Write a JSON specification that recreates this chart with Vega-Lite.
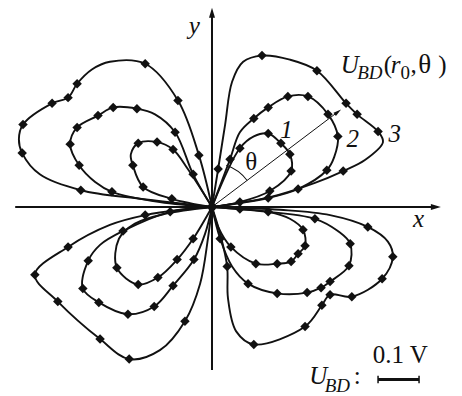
{
  "$schema": "https://vega.github.io/schema/vega-lite/v6.json",
  "width": 462,
  "height": 396,
  "autosize": {"type": "fit", "contains": "padding"},
  "padding": 0,
  "background": "white",
  "config": {"view": {"stroke": null}, "axis": {"disable": true}},
  "datasets": {
    "one": [{}],
    "curves": [
      {"k":"UL3","i":1,"x":0,"y":0,"m":0},
      {"k":"UL3","i":2,"x":-0.032,"y":0.127,"m":1},
      {"k":"UL3","i":3,"x":-0.083,"y":0.261,"m":1},
      {"k":"UL3","i":4,"x":-0.163,"y":0.351,"m":1},
      {"k":"UL3","i":5,"x":-0.249,"y":0.356,"m":0},
      {"k":"UL3","i":6,"x":-0.293,"y":0.337,"m":0},
      {"k":"UL3","i":7,"x":-0.329,"y":0.302,"m":1},
      {"k":"UL3","i":8,"x":-0.351,"y":0.268,"m":1},
      {"k":"UL3","i":9,"x":-0.390,"y":0.254,"m":1},
      {"k":"UL3","i":10,"x":-0.461,"y":0.202,"m":1},
      {"k":"UL3","i":11,"x":-0.471,"y":0.166,"m":0},
      {"k":"UL3","i":12,"x":-0.463,"y":0.132,"m":1},
      {"k":"UL3","i":13,"x":-0.420,"y":0.080,"m":0},
      {"k":"UL3","i":14,"x":-0.320,"y":0.041,"m":1},
      {"k":"UL3","i":15,"x":-0.176,"y":0.020,"m":0},
      {"k":"UL3","i":16,"x":0,"y":0,"m":0},

      {"k":"UL2","i":1,"x":0,"y":0,"m":0},
      {"k":"UL2","i":2,"x":-0.046,"y":0.080,"m":1},
      {"k":"UL2","i":3,"x":-0.090,"y":0.183,"m":1},
      {"k":"UL2","i":4,"x":-0.139,"y":0.227,"m":0},
      {"k":"UL2","i":5,"x":-0.183,"y":0.241,"m":1},
      {"k":"UL2","i":6,"x":-0.241,"y":0.244,"m":1},
      {"k":"UL2","i":7,"x":-0.278,"y":0.224,"m":1},
      {"k":"UL2","i":8,"x":-0.329,"y":0.195,"m":1},
      {"k":"UL2","i":9,"x":-0.346,"y":0.154,"m":1},
      {"k":"UL2","i":10,"x":-0.324,"y":0.102,"m":1},
      {"k":"UL2","i":11,"x":-0.285,"y":0.061,"m":0},
      {"k":"UL2","i":12,"x":-0.244,"y":0.037,"m":1},
      {"k":"UL2","i":13,"x":-0.127,"y":0.012,"m":0},
      {"k":"UL2","i":14,"x":0,"y":0,"m":0},

      {"k":"UL1","i":1,"x":0,"y":0,"m":0},
      {"k":"UL1","i":2,"x":-0.059,"y":0.093,"m":0},
      {"k":"UL1","i":3,"x":-0.095,"y":0.141,"m":1},
      {"k":"UL1","i":4,"x":-0.134,"y":0.159,"m":1},
      {"k":"UL1","i":5,"x":-0.180,"y":0.156,"m":1},
      {"k":"UL1","i":6,"x":-0.198,"y":0.129,"m":0},
      {"k":"UL1","i":7,"x":-0.193,"y":0.102,"m":1},
      {"k":"UL1","i":8,"x":-0.168,"y":0.049,"m":1},
      {"k":"UL1","i":9,"x":-0.098,"y":0.020,"m":1},
      {"k":"UL1","i":10,"x":0,"y":0,"m":0},

      {"k":"UR3","i":1,"x":0,"y":0,"m":0},
      {"k":"UR3","i":2,"x":0.015,"y":0.093,"m":1},
      {"k":"UR3","i":3,"x":0.032,"y":0.202,"m":0},
      {"k":"UR3","i":4,"x":0.049,"y":0.307,"m":0},
      {"k":"UR3","i":5,"x":0.076,"y":0.356,"m":0},
      {"k":"UR3","i":6,"x":0.122,"y":0.371,"m":1},
      {"k":"UR3","i":7,"x":0.190,"y":0.361,"m":0},
      {"k":"UR3","i":8,"x":0.256,"y":0.334,"m":1},
      {"k":"UR3","i":9,"x":0.327,"y":0.254,"m":1},
      {"k":"UR3","i":10,"x":0.354,"y":0.227,"m":1},
      {"k":"UR3","i":11,"x":0.405,"y":0.185,"m":1},
      {"k":"UR3","i":12,"x":0.417,"y":0.159,"m":0},
      {"k":"UR3","i":13,"x":0.373,"y":0.115,"m":0},
      {"k":"UR3","i":14,"x":0.320,"y":0.088,"m":1},
      {"k":"UR3","i":15,"x":0.251,"y":0.059,"m":0},
      {"k":"UR3","i":16,"x":0.141,"y":0.024,"m":0},
      {"k":"UR3","i":17,"x":0,"y":0,"m":0},

      {"k":"UR2","i":1,"x":0,"y":0,"m":0},
      {"k":"UR2","i":2,"x":0.044,"y":0.117,"m":1},
      {"k":"UR2","i":3,"x":0.068,"y":0.183,"m":0},
      {"k":"UR2","i":4,"x":0.102,"y":0.217,"m":1},
      {"k":"UR2","i":5,"x":0.137,"y":0.244,"m":1},
      {"k":"UR2","i":6,"x":0.185,"y":0.271,"m":1},
      {"k":"UR2","i":7,"x":0.234,"y":0.271,"m":1},
      {"k":"UR2","i":8,"x":0.283,"y":0.227,"m":1},
      {"k":"UR2","i":9,"x":0.307,"y":0.173,"m":1},
      {"k":"UR2","i":10,"x":0.298,"y":0.122,"m":0},
      {"k":"UR2","i":11,"x":0.280,"y":0.090,"m":1},
      {"k":"UR2","i":12,"x":0.210,"y":0.044,"m":1},
      {"k":"UR2","i":13,"x":0.137,"y":0.022,"m":1},
      {"k":"UR2","i":14,"x":0,"y":0,"m":0},

      {"k":"UR1","i":1,"x":0,"y":0,"m":0},
      {"k":"UR1","i":2,"x":0.068,"y":0.144,"m":1},
      {"k":"UR1","i":3,"x":0.102,"y":0.173,"m":0},
      {"k":"UR1","i":4,"x":0.137,"y":0.180,"m":1},
      {"k":"UR1","i":5,"x":0.168,"y":0.156,"m":1},
      {"k":"UR1","i":6,"x":0.190,"y":0.129,"m":1},
      {"k":"UR1","i":7,"x":0.193,"y":0.088,"m":1},
      {"k":"UR1","i":8,"x":0.141,"y":0.039,"m":1},
      {"k":"UR1","i":9,"x":0.068,"y":0.012,"m":1},
      {"k":"UR1","i":10,"x":0,"y":0,"m":0},

      {"k":"LL3","i":1,"x":0,"y":0,"m":0},
      {"k":"LL3","i":2,"x":-0.078,"y":-0.007,"m":0},
      {"k":"LL3","i":3,"x":-0.163,"y":-0.020,"m":1},
      {"k":"LL3","i":4,"x":-0.249,"y":-0.044,"m":0},
      {"k":"LL3","i":5,"x":-0.351,"y":-0.098,"m":1},
      {"k":"LL3","i":6,"x":-0.432,"y":-0.166,"m":1},
      {"k":"LL3","i":7,"x":-0.376,"y":-0.232,"m":1},
      {"k":"LL3","i":8,"x":-0.273,"y":-0.324,"m":1},
      {"k":"LL3","i":9,"x":-0.202,"y":-0.373,"m":1},
      {"k":"LL3","i":10,"x":-0.127,"y":-0.351,"m":0},
      {"k":"LL3","i":11,"x":-0.066,"y":-0.280,"m":1},
      {"k":"LL3","i":12,"x":-0.029,"y":-0.188,"m":0},
      {"k":"LL3","i":13,"x":-0.010,"y":-0.078,"m":0},
      {"k":"LL3","i":14,"x":0,"y":0,"m":0},

      {"k":"LL2","i":1,"x":0,"y":0,"m":0},
      {"k":"LL2","i":2,"x":-0.102,"y":-0.012,"m":1},
      {"k":"LL2","i":3,"x":-0.217,"y":-0.059,"m":1},
      {"k":"LL2","i":4,"x":-0.273,"y":-0.093,"m":0},
      {"k":"LL2","i":5,"x":-0.302,"y":-0.132,"m":1},
      {"k":"LL2","i":6,"x":-0.315,"y":-0.200,"m":1},
      {"k":"LL2","i":7,"x":-0.276,"y":-0.234,"m":1},
      {"k":"LL2","i":8,"x":-0.205,"y":-0.263,"m":1},
      {"k":"LL2","i":9,"x":-0.141,"y":-0.244,"m":1},
      {"k":"LL2","i":10,"x":-0.095,"y":-0.193,"m":1},
      {"k":"LL2","i":11,"x":-0.044,"y":-0.129,"m":1},
      {"k":"LL2","i":12,"x":-0.017,"y":-0.066,"m":0},
      {"k":"LL2","i":13,"x":0,"y":0,"m":0},

      {"k":"LL1","i":1,"x":0,"y":0,"m":0},
      {"k":"LL1","i":2,"x":-0.115,"y":-0.017,"m":0},
      {"k":"LL1","i":3,"x":-0.188,"y":-0.041,"m":0},
      {"k":"LL1","i":4,"x":-0.227,"y":-0.078,"m":0},
      {"k":"LL1","i":5,"x":-0.232,"y":-0.149,"m":1},
      {"k":"LL1","i":6,"x":-0.180,"y":-0.190,"m":1},
      {"k":"LL1","i":7,"x":-0.132,"y":-0.173,"m":1},
      {"k":"LL1","i":8,"x":-0.085,"y":-0.129,"m":1},
      {"k":"LL1","i":9,"x":-0.046,"y":-0.078,"m":1},
      {"k":"LL1","i":10,"x":0,"y":0,"m":0},

      {"k":"LR3","i":1,"x":0,"y":0,"m":0},
      {"k":"LR3","i":2,"x":0.166,"y":-0.007,"m":0},
      {"k":"LR3","i":3,"x":0.288,"y":-0.020,"m":0},
      {"k":"LR3","i":4,"x":0.380,"y":-0.049,"m":1},
      {"k":"LR3","i":5,"x":0.429,"y":-0.085,"m":0},
      {"k":"LR3","i":6,"x":0.441,"y":-0.122,"m":1},
      {"k":"LR3","i":7,"x":0.415,"y":-0.176,"m":1},
      {"k":"LR3","i":8,"x":0.341,"y":-0.220,"m":1},
      {"k":"LR3","i":9,"x":0.288,"y":-0.215,"m":1},
      {"k":"LR3","i":10,"x":0.268,"y":-0.241,"m":1},
      {"k":"LR3","i":11,"x":0.227,"y":-0.293,"m":1},
      {"k":"LR3","i":12,"x":0.102,"y":-0.337,"m":1},
      {"k":"LR3","i":13,"x":0.059,"y":-0.305,"m":0},
      {"k":"LR3","i":14,"x":0.039,"y":-0.224,"m":0},
      {"k":"LR3","i":15,"x":0.037,"y":-0.146,"m":1},
      {"k":"LR3","i":16,"x":0.020,"y":-0.066,"m":0},
      {"k":"LR3","i":17,"x":0,"y":0,"m":0},

      {"k":"LR2","i":1,"x":0,"y":0,"m":0},
      {"k":"LR2","i":2,"x":0.117,"y":-0.010,"m":0},
      {"k":"LR2","i":3,"x":0.251,"y":-0.029,"m":1},
      {"k":"LR2","i":4,"x":0.307,"y":-0.059,"m":0},
      {"k":"LR2","i":5,"x":0.337,"y":-0.090,"m":1},
      {"k":"LR2","i":6,"x":0.334,"y":-0.144,"m":1},
      {"k":"LR2","i":7,"x":0.288,"y":-0.183,"m":1},
      {"k":"LR2","i":8,"x":0.266,"y":-0.198,"m":1},
      {"k":"LR2","i":9,"x":0.232,"y":-0.210,"m":1},
      {"k":"LR2","i":10,"x":0.159,"y":-0.212,"m":1},
      {"k":"LR2","i":11,"x":0.088,"y":-0.188,"m":1},
      {"k":"LR2","i":12,"x":0.049,"y":-0.146,"m":0},
      {"k":"LR2","i":13,"x":0.020,"y":-0.078,"m":1},
      {"k":"LR2","i":14,"x":0,"y":0,"m":0},

      {"k":"LR1","i":1,"x":0,"y":0,"m":0},
      {"k":"LR1","i":2,"x":0.068,"y":-0.005,"m":1},
      {"k":"LR1","i":3,"x":0.137,"y":-0.012,"m":1},
      {"k":"LR1","i":4,"x":0.190,"y":-0.029,"m":0},
      {"k":"LR1","i":5,"x":0.222,"y":-0.056,"m":1},
      {"k":"LR1","i":6,"x":0.227,"y":-0.095,"m":1},
      {"k":"LR1","i":7,"x":0.210,"y":-0.115,"m":1},
      {"k":"LR1","i":8,"x":0.193,"y":-0.134,"m":1},
      {"k":"LR1","i":9,"x":0.159,"y":-0.139,"m":1},
      {"k":"LR1","i":10,"x":0.107,"y":-0.139,"m":1},
      {"k":"LR1","i":11,"x":0.046,"y":-0.098,"m":1},
      {"k":"LR1","i":12,"x":0.015,"y":-0.049,"m":0},
      {"k":"LR1","i":13,"x":0,"y":0,"m":0}
    ]
  },
  "layer": [
    {
      "data": {"name": "curves"},
      "mark": {"type": "line", "interpolate": "catmull-rom", "strokeWidth": 1.9, "color": "#111111"},
      "encoding": {
        "x": {"field": "x", "type": "quantitative", "scale": {"domain": [-0.51707, 0.60976], "nice": false, "zero": false}, "axis": null},
        "y": {"field": "y", "type": "quantitative", "scale": {"domain": [-0.45854, 0.50732], "nice": false, "zero": false}, "axis": null},
        "detail": {"field": "k", "type": "nominal"},
        "order": {"field": "i", "type": "quantitative"}
      }
    },
    {
      "data": {"name": "curves"},
      "transform": [{"filter": "datum.m == 1"}],
      "mark": {"type": "point", "shape": "diamond", "filled": true, "size": 90, "color": "#111111", "opacity": 1},
      "encoding": {
        "x": {"field": "x", "type": "quantitative"},
        "y": {"field": "y", "type": "quantitative"}
      }
    },
    {
      "data": {"name": "one"},
      "mark": {"type": "rule", "strokeWidth": 2, "color": "#111111"},
      "encoding": {
        "x": {"datum": -0.480, "type": "quantitative"},
        "x2": {"datum": 0.546},
        "y": {"datum": 0, "type": "quantitative"}
      }
    },
    {
      "data": {"name": "one"},
      "mark": {"type": "rule", "strokeWidth": 2, "color": "#111111"},
      "encoding": {
        "x": {"datum": 0, "type": "quantitative"},
        "y": {"datum": -0.400, "type": "quantitative"},
        "y2": {"datum": 0.476}
      }
    },
    {
      "data": {"name": "one"},
      "mark": {"type": "point", "shape": "circle", "filled": true, "size": 70, "color": "#111111", "opacity": 1},
      "encoding": {
        "x": {"datum": 0, "type": "quantitative"},
        "y": {"datum": 0, "type": "quantitative"}
      }
    },
    {
      "data": {"name": "one"},
      "mark": {"type": "point", "shape": "M-1,-0.6L1,0L-1,0.6Z", "filled": true, "size": 100, "color": "#111111", "opacity": 1},
      "encoding": {
        "x": {"datum": 0.546, "type": "quantitative"},
        "y": {"datum": 0, "type": "quantitative"}
      }
    },
    {
      "data": {"name": "one"},
      "mark": {"type": "point", "shape": "M-0.6,1L0,-1L0.6,1Z", "filled": true, "size": 100, "color": "#111111", "opacity": 1},
      "encoding": {
        "x": {"datum": 0, "type": "quantitative"},
        "y": {"datum": 0.476, "type": "quantitative"}
      }
    },
    {
      "data": {"name": "one"},
      "mark": {"type": "rule", "strokeWidth": 1, "color": "#111111"},
      "encoding": {
        "x": {"datum": 0, "type": "quantitative"},
        "y": {"datum": 0, "type": "quantitative"},
        "x2": {"datum": 0.307},
        "y2": {"datum": 0.233}
      }
    },
    {
      "data": {"name": "one"},
      "mark": {"type": "point", "shape": "M-1,-0.5L1,0L-1,0.5Z", "filled": true, "size": 64, "angle": 323, "color": "#111111", "opacity": 1},
      "encoding": {
        "x": {"datum": 0.307, "type": "quantitative"},
        "y": {"datum": 0.233, "type": "quantitative"}
      }
    },
    {
      "data": {"name": "one"},
      "mark": {"type": "arc", "radius": 44.5, "radius2": 43.5, "theta": 0.33, "theta2": 0.925, "color": "#111111"},
      "encoding": {
        "x": {"datum": 0, "type": "quantitative"},
        "y": {"datum": 0, "type": "quantitative"}
      }
    },
    {
      "data": {"name": "one"},
      "mark": {"type": "text", "text": "y", "font": "Liberation Serif", "fontStyle": "italic", "fontSize": 25, "align": "center", "baseline": "alphabetic", "color": "#111111"},
      "encoding": {"x": {"datum": -0.043, "type": "quantitative"}, "y": {"datum": 0.424, "type": "quantitative"}}
    },
    {
      "data": {"name": "one"},
      "mark": {"type": "text", "text": "x", "font": "Liberation Serif", "fontStyle": "italic", "fontSize": 25, "align": "center", "baseline": "alphabetic", "color": "#111111"},
      "encoding": {"x": {"datum": 0.504, "type": "quantitative"}, "y": {"datum": -0.049, "type": "quantitative"}}
    },
    {
      "data": {"name": "one"},
      "mark": {"type": "text", "text": "U", "font": "Liberation Serif", "fontStyle": "italic", "fontSize": 25, "align": "left", "baseline": "alphabetic", "color": "#111111"},
      "encoding": {"x": {"datum": 0.314, "type": "quantitative"}, "y": {"datum": 0.329, "type": "quantitative"}}
    },
    {
      "data": {"name": "one"},
      "mark": {"type": "text", "text": "BD", "font": "Liberation Serif", "fontStyle": "italic", "fontSize": 19, "align": "left", "baseline": "alphabetic", "color": "#111111"},
      "encoding": {"x": {"datum": 0.354, "type": "quantitative"}, "y": {"datum": 0.313, "type": "quantitative"}}
    },
    {
      "data": {"name": "one"},
      "mark": {"type": "text", "text": "(", "font": "Liberation Serif", "fontSize": 25, "align": "left", "baseline": "alphabetic", "color": "#111111"},
      "encoding": {"x": {"datum": 0.419, "type": "quantitative"}, "y": {"datum": 0.329, "type": "quantitative"}}
    },
    {
      "data": {"name": "one"},
      "mark": {"type": "text", "text": "r", "font": "Liberation Serif", "fontStyle": "italic", "fontSize": 25, "align": "left", "baseline": "alphabetic", "color": "#111111"},
      "encoding": {"x": {"datum": 0.436, "type": "quantitative"}, "y": {"datum": 0.329, "type": "quantitative"}}
    },
    {
      "data": {"name": "one"},
      "mark": {"type": "text", "text": "0", "font": "Liberation Serif", "fontSize": 19, "align": "left", "baseline": "alphabetic", "color": "#111111"},
      "encoding": {"x": {"datum": 0.460, "type": "quantitative"}, "y": {"datum": 0.313, "type": "quantitative"}}
    },
    {
      "data": {"name": "one"},
      "mark": {"type": "text", "text": ",", "font": "Liberation Serif", "fontSize": 25, "align": "left", "baseline": "alphabetic", "color": "#111111"},
      "encoding": {"x": {"datum": 0.484, "type": "quantitative"}, "y": {"datum": 0.329, "type": "quantitative"}}
    },
    {
      "data": {"name": "one"},
      "mark": {"type": "text", "text": "θ", "font": "Liberation Serif", "fontSize": 27, "align": "left", "baseline": "alphabetic", "color": "#111111"},
      "encoding": {"x": {"datum": 0.503, "type": "quantitative"}, "y": {"datum": 0.329, "type": "quantitative"}}
    },
    {
      "data": {"name": "one"},
      "mark": {"type": "text", "text": ")", "font": "Liberation Serif", "fontSize": 25, "align": "left", "baseline": "alphabetic", "color": "#111111"},
      "encoding": {"x": {"datum": 0.552, "type": "quantitative"}, "y": {"datum": 0.329, "type": "quantitative"}}
    },
    {
      "data": {"name": "one"},
      "mark": {"type": "text", "text": "1", "font": "Liberation Serif", "fontStyle": "italic", "fontSize": 25, "align": "center", "baseline": "alphabetic", "color": "#111111"},
      "encoding": {"x": {"datum": 0.182, "type": "quantitative"}, "y": {"datum": 0.168, "type": "quantitative"}}
    },
    {
      "data": {"name": "one"},
      "mark": {"type": "text", "text": "2", "font": "Liberation Serif", "fontStyle": "italic", "fontSize": 25, "align": "center", "baseline": "alphabetic", "color": "#111111"},
      "encoding": {"x": {"datum": 0.343, "type": "quantitative"}, "y": {"datum": 0.147, "type": "quantitative"}}
    },
    {
      "data": {"name": "one"},
      "mark": {"type": "text", "text": "3", "font": "Liberation Serif", "fontStyle": "italic", "fontSize": 25, "align": "center", "baseline": "alphabetic", "color": "#111111"},
      "encoding": {"x": {"datum": 0.446, "type": "quantitative"}, "y": {"datum": 0.159, "type": "quantitative"}}
    },
    {
      "data": {"name": "one"},
      "mark": {"type": "text", "text": "θ", "font": "Liberation Serif", "fontSize": 25, "align": "center", "baseline": "alphabetic", "color": "#111111"},
      "encoding": {"x": {"datum": 0.096, "type": "quantitative"}, "y": {"datum": 0.090, "type": "quantitative"}}
    },
    {
      "data": {"name": "one"},
      "mark": {"type": "text", "text": "0.1 V", "font": "Liberation Serif", "fontSize": 25, "align": "center", "baseline": "alphabetic", "color": "#111111"},
      "encoding": {"x": {"datum": 0.459, "type": "quantitative"}, "y": {"datum": -0.383, "type": "quantitative"}}
    },
    {
      "data": {"name": "one"},
      "mark": {"type": "text", "text": "U", "font": "Liberation Serif", "fontStyle": "italic", "fontSize": 25, "align": "left", "baseline": "alphabetic", "color": "#111111"},
      "encoding": {"x": {"datum": 0.237, "type": "quantitative"}, "y": {"datum": -0.435, "type": "quantitative"}}
    },
    {
      "data": {"name": "one"},
      "mark": {"type": "text", "text": "BD", "font": "Liberation Serif", "fontStyle": "italic", "fontSize": 19, "align": "left", "baseline": "alphabetic", "color": "#111111"},
      "encoding": {"x": {"datum": 0.275, "type": "quantitative"}, "y": {"datum": -0.453, "type": "quantitative"}}
    },
    {
      "data": {"name": "one"},
      "mark": {"type": "text", "text": ":", "font": "Liberation Serif", "fontSize": 25, "align": "left", "baseline": "alphabetic", "color": "#111111"},
      "encoding": {"x": {"datum": 0.346, "type": "quantitative"}, "y": {"datum": -0.435, "type": "quantitative"}}
    },
    {
      "data": {"name": "one"},
      "mark": {"type": "rule", "strokeWidth": 3, "color": "#111111"},
      "encoding": {
        "x": {"datum": 0.405, "type": "quantitative"},
        "x2": {"datum": 0.505},
        "y": {"datum": -0.423, "type": "quantitative"}
      }
    },
    {
      "data": {"name": "one"},
      "mark": {"type": "rule", "strokeWidth": 1.5, "color": "#111111"},
      "encoding": {
        "x": {"datum": 0.405, "type": "quantitative"},
        "y": {"datum": -0.414, "type": "quantitative"},
        "y2": {"datum": -0.432}
      }
    },
    {
      "data": {"name": "one"},
      "mark": {"type": "rule", "strokeWidth": 1.5, "color": "#111111"},
      "encoding": {
        "x": {"datum": 0.505, "type": "quantitative"},
        "y": {"datum": -0.414, "type": "quantitative"},
        "y2": {"datum": -0.432}
      }
    }
  ]
}
